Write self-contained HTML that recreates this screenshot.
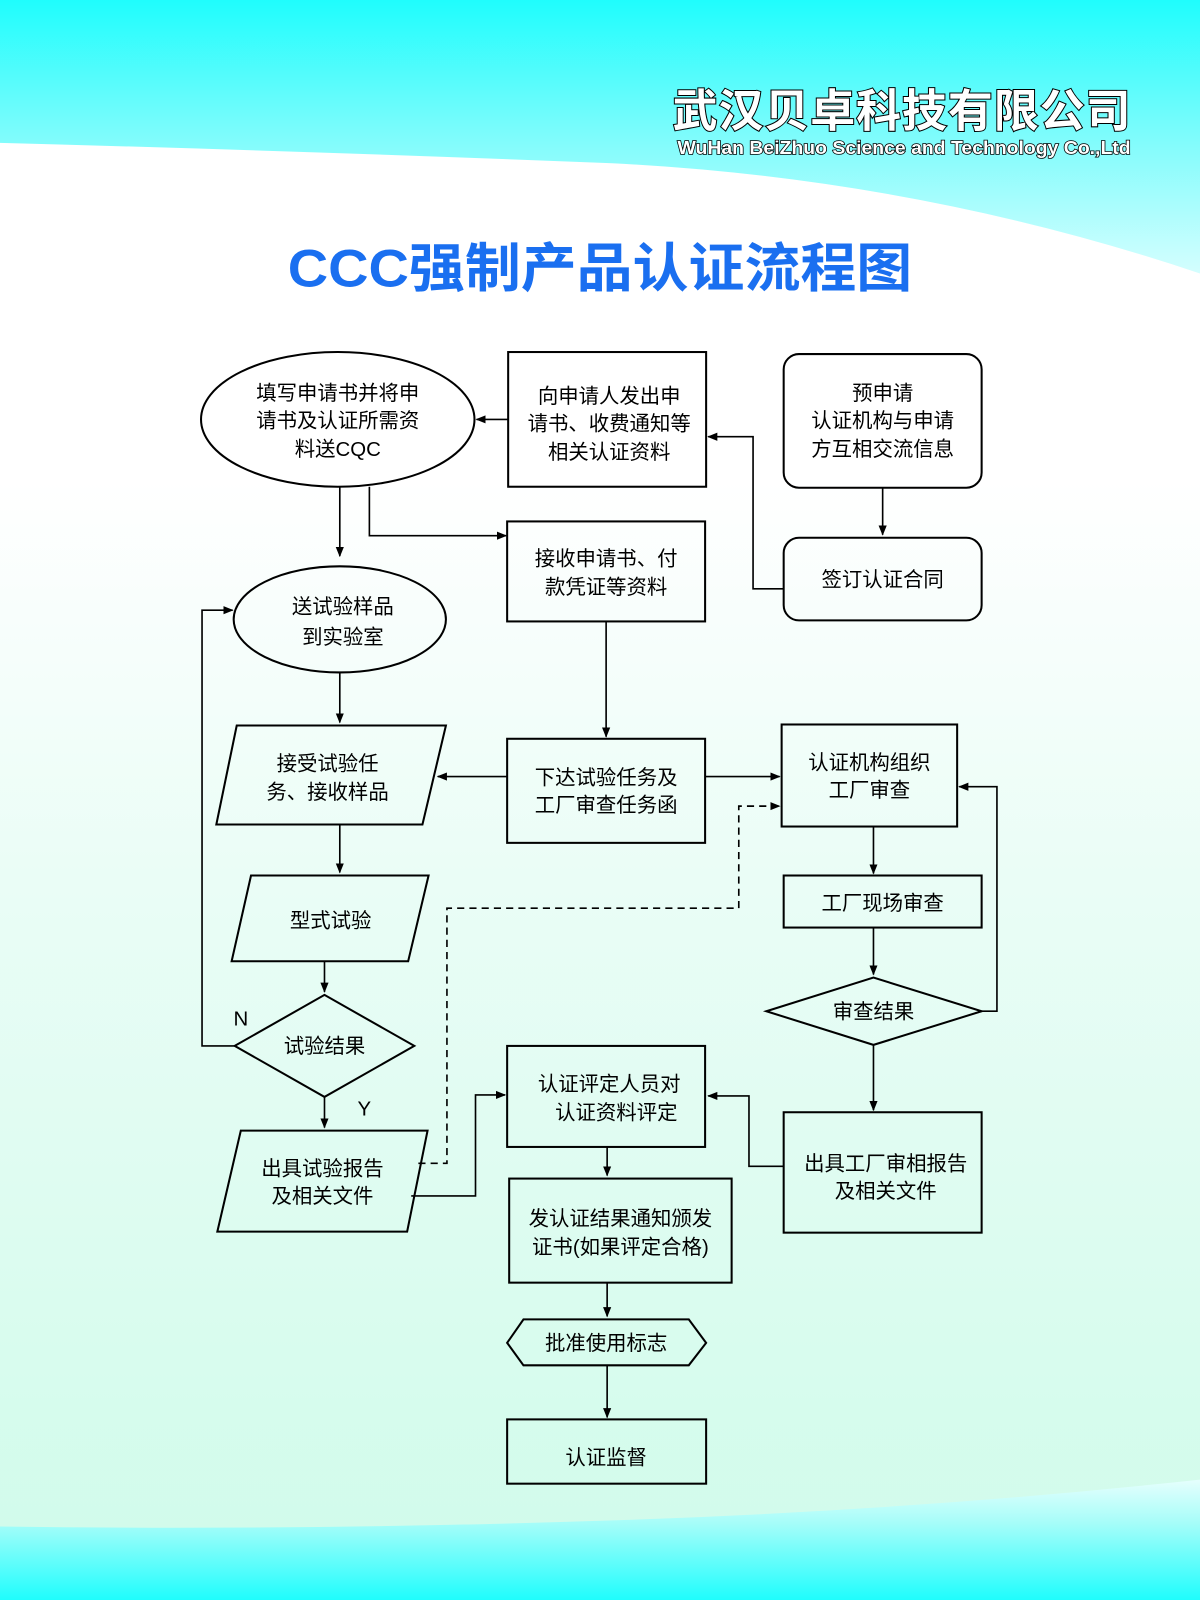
<!DOCTYPE html>
<html><head><meta charset="utf-8"><style>
html,body{margin:0;padding:0;width:1200px;height:1600px;overflow:hidden}
svg{display:block}
text{font-family:"Liberation Sans","Noto Sans CJK SC",sans-serif}
</style></head><body>
<svg width="1200" height="1600" viewBox="0 0 1176 1568" preserveAspectRatio="none" xmlns="http://www.w3.org/2000/svg">
<defs>
<linearGradient id="bg" x1="0" y1="0" x2="0" y2="1">
<stop offset="0" stop-color="#ffffff"/><stop offset="0.3" stop-color="#ffffff"/><stop offset="0.55" stop-color="#eafdf6"/><stop offset="1" stop-color="#cffbea"/></linearGradient>
<linearGradient id="top" x1="0" y1="0" x2="0" y2="1">
<stop offset="0" stop-color="#1ffdfd"/><stop offset="0.5" stop-color="#7efcfc"/><stop offset="1" stop-color="#d4fefe"/></linearGradient>
<linearGradient id="bot" x1="0" y1="0" x2="0" y2="1">
<stop offset="0" stop-color="#e6fffd"/><stop offset="0.35" stop-color="#a8fdf9"/><stop offset="1" stop-color="#1ffdfd"/></linearGradient>
<marker id="a" markerWidth="10" markerHeight="10" refX="9" refY="5" orient="auto" markerUnits="userSpaceOnUse"><path d="M0,1 L10,5 L0,9 Z" fill="#000"/></marker>
</defs>
<rect width="1176" height="1568" fill="url(#bg)"/>
<path d="M0,0 H1176 V268 Q900,175 600,160 Q300,148 0,140 Z" fill="url(#top)"/>
<path d="M0,1496 Q300,1500 600,1490 Q900,1480 1176,1450 V1568 H0 Z" fill="url(#bot)"/>
<text x="884" y="124" font-size="44" font-weight="bold" text-anchor="middle" fill="#fff" stroke="#000" stroke-width="2" paint-order="stroke" letter-spacing="1">武汉贝卓科技有限公司</text>
<text x="886" y="151" font-size="18" font-weight="bold" text-anchor="middle" fill="#fff" stroke="#000" stroke-width="1.5" paint-order="stroke" textLength="444" lengthAdjust="spacingAndGlyphs">WuHan BeiZhuo Science and Technology Co.,Ltd</text>
<text x="588" y="281" font-size="52" font-weight="bold" text-anchor="middle" fill="#1a6ff0" textLength="612" lengthAdjust="spacingAndGlyphs">CCC强制产品认证流程图</text>

<g fill="none" stroke="#000" stroke-width="2">
<ellipse cx="331" cy="411" rx="134" ry="66"/>
<rect x="498" y="345" width="194" height="132"/>
<rect x="768" y="347" width="194" height="131" rx="15"/>
<rect x="768" y="527" width="194" height="81" rx="15"/>
<rect x="497" y="511" width="194" height="98"/>
<ellipse cx="333" cy="607" rx="104" ry="52"/>
<polygon points="232,711 437,711 414,808 212,808"/>
<rect x="497" y="724" width="194" height="102"/>
<rect x="766" y="710" width="172" height="100"/>
<polygon points="246,858 420,858 400,942 227,942"/>
<polygon points="230,1025 318,975 406,1025 318,1075"/>
<polygon points="236,1108 419,1108 399,1207 213,1207"/>
<rect x="768" y="858" width="194" height="51"/>
<polygon points="751,991 856,958 962,991 856,1024"/>
<rect x="768" y="1090" width="194" height="118"/>
<rect x="497" y="1025" width="194" height="99"/>
<rect x="499" y="1155" width="218" height="102"/>
<polygon points="497,1316 513,1293 675,1293 692,1316 675,1338 513,1338"/>
<rect x="497" y="1391" width="195" height="63"/>
</g>
<g fill="none" stroke="#000" stroke-width="1.6">
<path d="M498,411 H467" marker-end="url(#a)"/>
<path d="M865,478 V524" marker-end="url(#a)"/>
<path d="M768,577 H738 V428 H694" marker-end="url(#a)"/>
<path d="M333,477 V545" marker-end="url(#a)"/>
<path d="M362,477 V525 H496" marker-end="url(#a)"/>
<path d="M594,609 V722" marker-end="url(#a)"/>
<path d="M333,659 V708" marker-end="url(#a)"/>
<path d="M497,761 H429" marker-end="url(#a)"/>
<path d="M691,761 H764" marker-end="url(#a)"/>
<path d="M333,808 V855" marker-end="url(#a)"/>
<path d="M318,942 V972" marker-end="url(#a)"/>
<path d="M230,1025 H198 V598 H228" marker-end="url(#a)"/>
<path d="M318,1075 V1105" marker-end="url(#a)"/>
<path d="M403,1172 H466 V1073 H495" marker-end="url(#a)"/>
<path d="M410,1140 H438 V890 H724 V790 H764" stroke-dasharray="7,5" marker-end="url(#a)"/>
<path d="M856,810 V856" marker-end="url(#a)"/>
<path d="M856,909 V955" marker-end="url(#a)"/>
<path d="M962,991 H977 V771 H940" marker-end="url(#a)"/>
<path d="M856,1024 V1088" marker-end="url(#a)"/>
<path d="M768,1143 H734 V1074 H694" marker-end="url(#a)"/>
<path d="M595,1124 V1152" marker-end="url(#a)"/>
<path d="M595,1257 V1290" marker-end="url(#a)"/>
<path d="M595,1338 V1389" marker-end="url(#a)"/>
</g>
<g font-size="20" text-anchor="middle" fill="#000">
<text x="331" y="392">填写申请书并将申</text><text x="331" y="419">请书及认证所需资</text><text x="331" y="447">料送CQC</text>
<text x="597" y="395">向申请人发出申</text><text x="597" y="422">请书、收费通知等</text><text x="597" y="450">相关认证资料</text>
<text x="865" y="392">预申请</text><text x="865" y="419">认证机构与申请</text><text x="865" y="447">方互相交流信息</text>
<text x="865" y="575">签订认证合同</text>
<text x="594" y="554">接收申请书、付</text><text x="594" y="582">款凭证等资料</text>
<text x="336" y="601">送试验样品</text><text x="336" y="631">到实验室</text>
<text x="321" y="755">接受试验任</text><text x="321" y="783">务、接收样品</text>
<text x="594" y="769">下达试验任务及</text><text x="594" y="796">工厂审查任务函</text>
<text x="852" y="754">认证机构组织</text><text x="852" y="781">工厂审查</text>
<text x="324" y="909">型式试验</text>
<text x="318" y="1032">试验结果</text>
<text x="236" y="1005">N</text><text x="357" y="1093">Y</text>
<text x="316" y="1152">出具试验报告</text><text x="316" y="1179">及相关文件</text>
<text x="865" y="892">工厂现场审查</text>
<text x="856" y="998">审查结果</text>
<text x="868" y="1147">出具工厂审相报告</text><text x="868" y="1174">及相关文件</text>
<text x="597" y="1069">认证评定人员对</text><text x="604" y="1097">认证资料评定</text>
<text x="608" y="1201">发认证结果通知颁发</text><text x="608" y="1229">证书(如果评定合格)</text>
<text x="594" y="1323">批准使用标志</text>
<text x="594" y="1435">认证监督</text>
</g>
</svg>
</body></html>
